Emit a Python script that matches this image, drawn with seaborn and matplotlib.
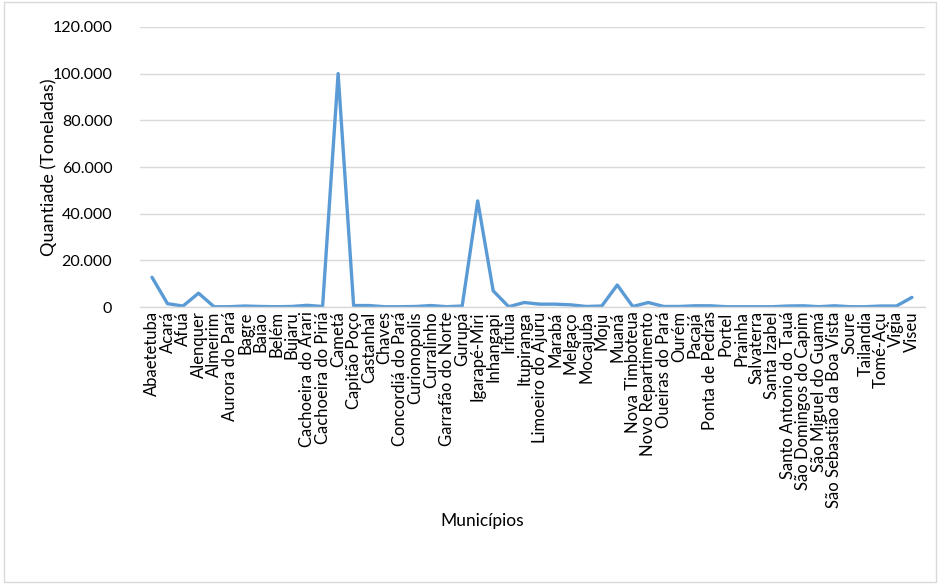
import matplotlib
matplotlib.use("Agg")
import matplotlib.pyplot as plt
import matplotlib.ticker as mticker
from matplotlib.patches import Rectangle
import numpy as np
import pandas as pd
import seaborn as sns

municipios = [
    "Abaetetuba", "Acará", "Afuá", "Alenquer", "Almeirim", "Aurora do Pará",
    "Bagre", "Baião", "Belém", "Bujaru", "Cachoeira do Arari", "Cachoeira do Piriá",
    "Cametá", "Capitão Poço", "Castanhal", "Chaves", "Concordiá do Pará",
    "Curionopolis", "Curralinho", "Garrafão do Norte", "Gurupá", "Igarapé-Miri",
    "Inhangapi", "Irituia", "Itupiranga", "Limoeiro do Ajuru", "Marabá", "Melgaço",
    "Mocajuba", "Moju", "Muaná", "Nova Timboteua", "Novo Repartimento",
    "Oueiras do Pará", "Ourém", "Pacajá", "Ponta de Pedras", "Portel", "Prainha",
    "Salvaterra", "Santa Izabel", "Santo Antonio do Tauá", "São Domingos do Capim",
    "São Miguel do Guamá", "São Sebastião da Boa Vista", "Soure", "Tailandia",
    "Tomé-Açu", "Vigia", "Viseu",
]
quantidade = [
    12800, 1500, 500, 6000, 200, 200,
    500, 300, 200, 300, 800, 300,
    100000, 700, 700, 200, 200,
    300, 700, 200, 500, 45500,
    7000, 200, 2000, 1300, 1300, 1000,
    300, 500, 9500, 300, 2000,
    300, 300, 600, 600, 200, 200,
    200, 200, 500, 600,
    200, 600, 200, 200,
    500, 500, 4200,
]
yticks = [0, 20000, 40000, 60000, 80000, 100000, 120000]

df = pd.DataFrame({"idx": np.arange(len(municipios)), "q": quantidade})

sns.set_theme(style="white")
plt.rcParams["font.family"] = ["Lato", "DejaVu Sans"]

fig = plt.figure(figsize=(9.4, 5.84), dpi=100)
ax = fig.add_axes([0.149, 0.474, 0.835, 0.48])

sns.lineplot(data=df, x="idx", y="q", ax=ax, color="#5B9BD5", linewidth=2.4)

ax.set_ylim(0, 120000)
ax.set_xlim(-0.77, len(municipios) - 1 + 0.84)
ax.set_yticks(yticks)
ax.yaxis.set_major_formatter(mticker.FuncFormatter(lambda v, p: f"{int(v):,}".replace(",", ".")))
ax.set_xticks(np.arange(len(municipios)))
ax.set_xticklabels(municipios, rotation=90, fontsize=12, color="#000000")
ax.tick_params(axis="y", labelsize=11.5, length=0, pad=20)
ax.tick_params(axis="x", length=0, pad=3)
for lbl in ax.get_yticklabels():
    lbl.set_color("#000000")

ax.grid(axis="y", color="#D9D9D9", linewidth=1)
ax.set_axisbelow(True)
for s in ["top", "right", "left"]:
    ax.spines[s].set_visible(False)
ax.spines["bottom"].set_color("#D9D9D9")
ax.spines["bottom"].set_linewidth(1)

ax.set_ylabel("Quantiade (Toneladas)", fontsize=13, labelpad=-3, color="#000000")
ax.set_xlabel("")
fig.text(0.513, 0.108, "Municípios", ha="center", va="center", fontsize=12.5, color="#000000")

fig.patches.append(Rectangle((0.004, 0.004), 0.992, 0.992, transform=fig.transFigure,
                             fill=False, edgecolor="#D9D9D9", linewidth=1))

fig.savefig("out.png", dpi=100)
